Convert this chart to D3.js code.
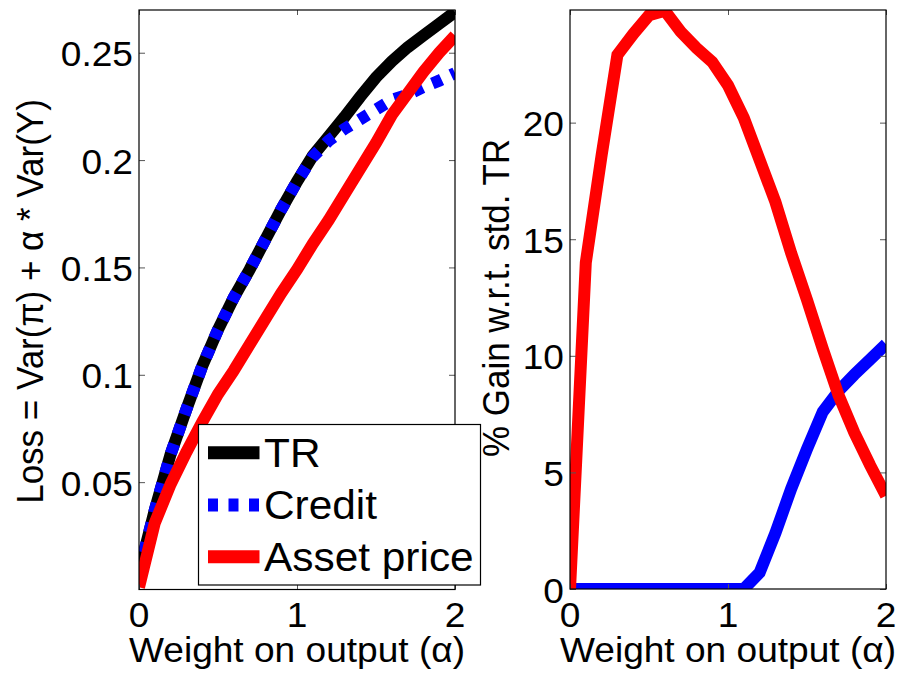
<!DOCTYPE html>
<html>
<head>
<meta charset="utf-8">
<script src="https://cdn.jsdelivr.net/npm/d3@7"></script>
<style>
  html, body { margin: 0; padding: 0; background: #fff; }
  svg { display: block; }
  text { font-family: "Liberation Sans", Arial, Helvetica, sans-serif; fill: #000; }
</style>
</head>
<body>
<svg id="chart" width="902" height="675"></svg>
<script>
// ---------- data ----------
const alpha = [0, 0.1, 0.2, 0.3, 0.4, 0.5, 0.6, 0.7, 0.8, 0.9, 1.0,
               1.1, 1.2, 1.3, 1.4, 1.5, 1.6, 1.7, 1.8, 1.9, 2.0];
const lossTR     = [0.008, 0.037, 0.063, 0.084, 0.104, 0.121, 0.136, 0.149, 0.163, 0.177, 0.190,
                    0.202, 0.211, 0.220, 0.2295, 0.2385, 0.246, 0.2525, 0.258, 0.2635, 0.269];
const lossCredit = [0.008, 0.037, 0.063, 0.084, 0.104, 0.121, 0.136, 0.149, 0.163, 0.177, 0.190,
                    0.2015, 0.209, 0.2145, 0.219, 0.2235, 0.228, 0.2305, 0.234, 0.237, 0.2405];
const lossAsset  = [0.001, 0.031, 0.049, 0.064, 0.078, 0.091, 0.102, 0.114, 0.126, 0.138, 0.149,
                    0.161, 0.172, 0.184, 0.196, 0.208, 0.221, 0.231, 0.241, 0.250, 0.258];
const gainCredit = [0, 0, 0, 0, 0, 0, 0, 0, 0, 0, 0,
                    0, 0.7, 2.4, 4.3, 6.0, 7.6, 8.5, 9.2, 9.85, 10.5];
const gainAsset  = [0, 14.0, 18.6, 22.9, 23.8, 24.6, 24.8, 23.9, 23.2, 22.6, 21.6,
                    20.2, 18.4, 16.6, 14.4, 12.4, 10.3, 8.3, 6.7, 5.3, 4.0];

const xTicks = [0, 1, 2];
const lossTicks = [0.05, 0.1, 0.15, 0.2, 0.25];
const lossTickLabels = ["0.05", "0.1", "0.15", "0.2", "0.25"];
const gainTicks = [0, 5, 10, 15, 20];
const legendNames = ["TR", "Credit", "Asset price"];

const xLabel = "Weight on output (\u03B1)";
const yLabelLeft = "Loss = Var(\u03C0) + \u03B1 * Var(Y)";
const yLabelRight = "% Gain w.r.t. std. TR";

// ---------- layout ----------
const FONT = 35, SX = 1.06, LW = 12;
const svg = d3.select("#chart");

const left  = {x0: 139, x1: 455, y0: 10, y1: 589.5};
const right = {x0: 570, x1: 886, y0: 10, y1: 589};

const xL = d3.scaleLinear().domain([0, 2]).range([left.x0, left.x1]);
const yL = d3.scaleLinear().domain([0, 0.2699]).range([left.y1, left.y0]);
const xR = d3.scaleLinear().domain([0, 2]).range([right.x0, right.x1]);
const yR = d3.scaleLinear().domain([0, 24.83]).range([right.y1, right.y0]);

const defs = svg.append("defs");
function clip(id, p) {
  defs.append("clipPath").attr("id", id).append("rect")
    .attr("x", p.x0).attr("y", p.y0).attr("width", p.x1 - p.x0).attr("height", p.y1 - p.y0);
}
clip("clipL", left); clip("clipR", right);

function drawLine(g, xs, ys, xScale, yScale, color, dash) {
  const line = d3.line().x((d, i) => xScale(xs[i])).y(d => yScale(d));
  const p = g.append("path").datum(ys)
    .attr("d", line)
    .attr("fill", "none")
    .attr("stroke", color)
    .attr("stroke-width", LW)
    .attr("stroke-linejoin", "miter")
    .attr("stroke-miterlimit", 4)
    .attr("stroke-linecap", "butt");
  if (dash) p.attr("stroke-dasharray", dash);
}

function hText(x, y, str, anchor, size) {
  svg.append("text")
    .attr("transform", `translate(${x},${y}) scale(${SX},1)`)
    .attr("text-anchor", anchor)
    .style("font-size", (size || FONT) + "px")
    .text(str);
}
function vText(x, y, str) {
  svg.append("text")
    .attr("transform", `translate(${x},${y}) scale(${SX},1) rotate(-90)`)
    .attr("text-anchor", "middle")
    .style("font-size", FONT + "px")
    .text(str);
}

function drawAxes(p, xScale, yScale, yt, ytl) {
  const g = svg.append("g");
  const TK = "#555";
  const xg = g.append("g").attr("transform", `translate(0,${p.y1})`)
    .call(d3.axisBottom(xScale).tickValues(xTicks).tickSize(-5).tickFormat(""));
  const xg2 = g.append("g").attr("transform", `translate(0,${p.y0})`)
    .call(d3.axisTop(xScale).tickValues(xTicks).tickSize(-5).tickFormat(""));
  const yg = g.append("g").attr("transform", `translate(${p.x0},0)`)
    .call(d3.axisLeft(yScale).tickValues(yt).tickSize(-6).tickFormat(""));
  const yg2 = g.append("g").attr("transform", `translate(${p.x1},0)`)
    .call(d3.axisRight(yScale).tickValues(yt).tickSize(-6).tickFormat(""));
  [xg, xg2, yg, yg2].forEach(a => {
    a.select(".domain").remove();
    a.selectAll("line").attr("stroke", TK).attr("stroke-width", 1);
  });
  g.append("rect").attr("x", p.x0).attr("y", p.y0)
    .attr("width", p.x1 - p.x0).attr("height", p.y1 - p.y0)
    .attr("fill", "none").attr("stroke", "#000").attr("stroke-width", 1.2);
  xTicks.forEach(t => hText(xScale(t), 626.7, String(t), "middle"));
  yt.forEach((t, i) => hText(p.x0 - 6, yScale(t) + 13.5, ytl[i], "end"));
  hText((p.x0 + p.x1) / 2, 661.5, xLabel, "middle");
}

// ---------- left panel ----------
const gL = svg.append("g").attr("clip-path", "url(#clipL)");
drawLine(gL, alpha, lossTR, xL, yL, "#000");
drawLine(gL, alpha, lossCredit, xL, yL, "#0000ff", "10,10.5");
drawLine(gL, alpha, lossAsset, xL, yL, "#ff0000");
drawAxes(left, xL, yL, lossTicks, lossTickLabels);
vText(43.3, 301.5, yLabelLeft);

// ---------- right panel ----------
const gR = svg.append("g").attr("clip-path", "url(#clipR)");
drawLine(gR, alpha, gainCredit, xR, yR, "#0000ff");
drawLine(gR, alpha, gainAsset, xR, yR, "#ff0000");
drawAxes(right, xR, yR, gainTicks, gainTicks.map(String));
vText(508.5, 298, yLabelRight);

// ---------- legend ----------
const leg = svg.append("g");
leg.append("rect").attr("x", 198.5).attr("y", 424.5).attr("width", 282).attr("height", 160.5)
  .attr("fill", "#fff").attr("stroke", "#000").attr("stroke-width", 1.2);
const legColors = ["#000", "#0000ff", "#ff0000"];
const legDash = [null, "10,10.5", null];
const legY = [452.7, 505, 556.7];
legendNames.forEach((n, i) => {
  const l = leg.append("line").attr("x1", 208).attr("x2", 259.5)
    .attr("y1", legY[i]).attr("y2", legY[i])
    .attr("stroke", legColors[i]).attr("stroke-width", LW + 1);
  if (legDash[i]) l.attr("stroke-dasharray", legDash[i]);
  hText(264, legY[i] + 13.8, n, "start", 40);
});
</script>
</body>
</html>
